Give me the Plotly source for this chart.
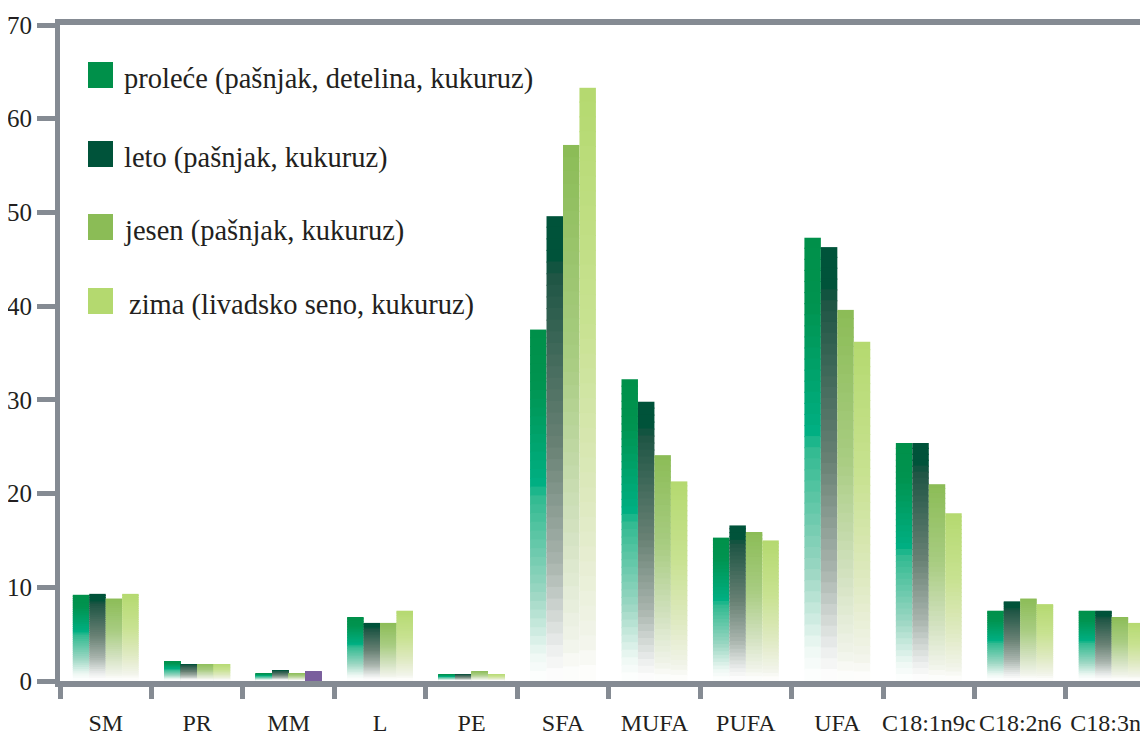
import plotly.graph_objects as go

categories = ["SM", "PR", "MM", "L", "PE", "SFA", "MUFA", "PUFA", "UFA",
              "C18:1n9c", "C18:2n6", "C18:3n3"]

proleće = [9.2, 2.1, 0.8, 6.8, 0.7, 37.5, 32.2, 15.3, 47.3, 25.4, 7.5, 7.5]
leto = [9.3, 1.8, 1.1, 6.2, 0.7, 49.6, 29.8, 16.6, 46.3, 25.4, 8.5, 7.5]
jesen = [8.8, 1.8, 0.8, 6.2, 1.0, 57.2, 24.1, 15.9, 39.6, 21.0, 8.8, 6.8]
zima = [9.3, 1.8, 1.0, 7.5, 0.7, 63.3, 21.3, 15.0, 36.2, 17.9, 8.2, 6.2]

series_names = ["proleće (pašnjak, detelina, kukuruz)",
                "leto (pašnjak, kukuruz)",
                "jesen (pašnjak, kukuruz)",
                "zima (livadsko seno, kukuruz)"]
series_values = [proleće, leto, jesen, zima]
legend_colors = ["#00904A", "#00533A", "#8BBC56", "#B4D96F"]

y_ticks = [0, 10, 20, 30, 40, 50, 60, 70]

# vertical gradient stops, 0 = top of bar, 1 = bottom
gradients = [
    [(0, "#00904A"), (0.15, "#00934F"), (0.45, "#00B084"), (0.47, "#2DB98F"),
     (0.75, "#9AD6C2"), (0.93, "#EEF8F4"), (1, "#FFFFFF")],
    [(0, "#00533A"), (0.1, "#00533A"), (0.12, "#1C5443"), (0.5, "#6A8275"),
     (0.75, "#A9B5AE"), (0.93, "#ECEEED"), (1, "#FFFFFF")],
    [(0, "#8BBC56"), (0.4, "#A8CC81"), (0.7, "#D0E0BC"), (0.93, "#F1F4EA"),
     (1, "#FFFFFF")],
    [(0, "#B4D96F"), (0.4, "#C8E291"), (0.7, "#DEE9C0"), (0.93, "#F2F4EA"),
     (1, "#FFFFFF")],
]
# odd one out in the original: winter MM bar is purple
special = {(3, 2): "#7A5F9D"}

AXIS = "#858B93"
TEXT = "#231F20"
FONT = "Liberation Serif"
N = 40

# page has an 8px body margin, so the figure is shifted by OFF
OFF = 8
PAGE_W, PAGE_H = 1148, 740
PLOT_LEFT, PLOT_TOP, PLOT_BOTTOM = 60, 25, 681
CAT_PX = 91.45

W, H = PAGE_W - OFF, PAGE_H - OFF
L, T = PLOT_LEFT - OFF, PLOT_TOP - OFF
B = H - (PLOT_BOTTOM - OFF)
R = 0


def hex_rgb(h):
    return tuple(int(h[i:i + 2], 16) for i in (1, 3, 5))


def grad_color(stops, t):
    for (t0, c0), (t1, c1) in zip(stops, stops[1:]):
        if t0 <= t <= t1:
            f = (t - t0) / (t1 - t0) if t1 > t0 else 0
            a, b = hex_rgb(c0), hex_rgb(c1)
            return "rgb(%d,%d,%d)" % tuple(round(a[i] + (b[i] - a[i]) * f) for i in range(3))
    return stops[-1][1]


fig = go.Figure()
bar_w = 0.18
for s, vals in enumerate(series_values):
    for k in range(N):
        t = (k + 0.5) / N
        col = grad_color(gradients[s], t)
        colors = [special.get((s, c), col) for c in range(len(categories))]
        # lower slices overlap the one above a little so no seams show
        extra = [0 if k == 0 else min(v / N, 0.12) for v in vals]
        fig.add_trace(go.Bar(
            x=categories,
            y=[v / N + e for v, e in zip(vals, extra)],
            base=[v * (1 - (k + 1) / N) for v in vals],
            width=bar_w,
            offset=-0.36 + s * bar_w,
            marker=dict(color=colors, line=dict(width=0)),
            showlegend=False,
            hoverinfo="skip",
        ))

plot_w = W - L - R
plot_h = PLOT_BOTTOM - PLOT_TOP


def px_x(x):
    return (x - PLOT_LEFT) / plot_w


def px_y(y):
    return (PLOT_BOTTOM - y) / plot_h


legend_tops = [62, 141, 214, 288]
legend_text_x = [122, 122, 122, 127]
for i, name in enumerate(series_names):
    top = legend_tops[i]
    fig.add_shape(type="rect", xref="paper", yref="paper",
                  x0=px_x(88), x1=px_x(113), y0=px_y(top + 26), y1=px_y(top),
                  fillcolor=legend_colors[i], line=dict(width=0))
    fig.add_annotation(xref="paper", yref="paper", x=px_x(legend_text_x[i]),
                       y=px_y(top + 17), text=name, showarrow=False,
                       xanchor="left", yanchor="middle",
                       font=dict(family=FONT, size=28.5, color=TEXT))

x_end = -0.5 + plot_w / CAT_PX
fig.update_layout(
    width=W, height=H,
    margin=dict(l=L, r=R, t=T, b=B, autoexpand=False),
    barmode="overlay",
    plot_bgcolor="white", paper_bgcolor="white",
    xaxis=dict(type="category", range=[-0.5, x_end], showgrid=False,
               showline=True, linecolor=AXIS, linewidth=6, mirror=True,
               ticks="outside", tickson="boundaries", ticklen=12,
               tickwidth=5, tickcolor=AXIS, ticklabelstandoff=15,
               tickangle=0, automargin=False,
               tickfont=dict(family=FONT, size=24, color=TEXT)),
    yaxis=dict(range=[0, 70], tickvals=y_ticks, showgrid=False,
               zeroline=False, showline=True, linecolor=AXIS, linewidth=5,
               ticks="outside", ticklen=18, tickwidth=5, tickcolor=AXIS,
               automargin=False,
               tickfont=dict(family=FONT, size=25, color=TEXT)),
)

fig.write_html("out.html")
